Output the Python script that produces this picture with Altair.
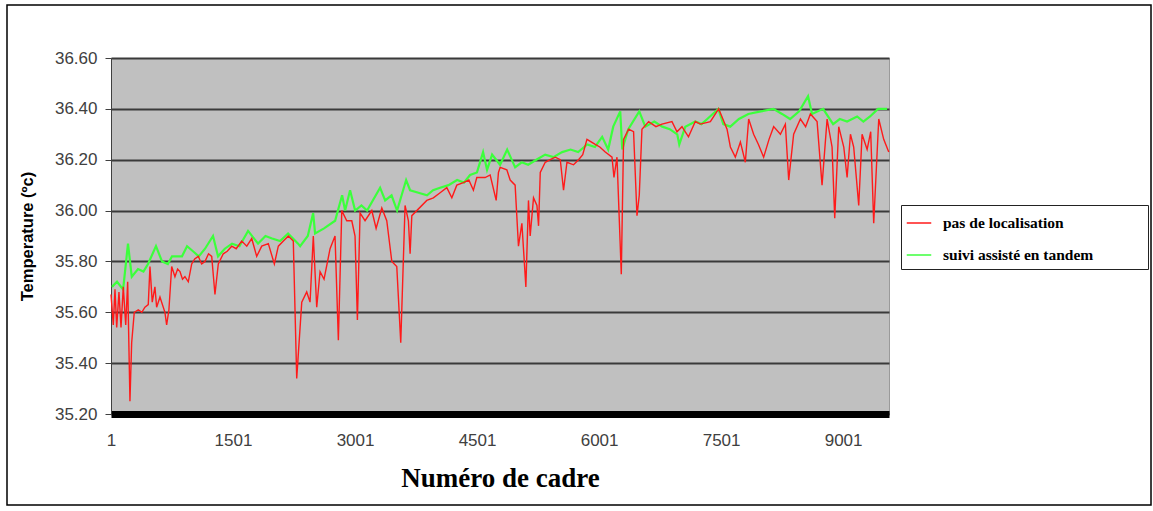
import altair as alt
import pandas as pd

# ---- data ----
red_frames = [1, 29, 50, 71, 99, 124, 152, 182, 206, 234, 255, 287, 336, 380, 418, 459, 480, 508, 541, 562, 603,
              664, 685, 713, 747, 787, 820, 849, 880, 910, 951, 993, 1030, 1074, 1115, 1156, 1200, 1239, 1279,
              1320, 1381, 1430, 1485, 1540, 1608, 1670, 1731,
              1792, 1854, 1935, 2009, 2058, 2120, 2181, 2242, 2284, 2346, 2407, 2448, 2488, 2530, 2571, 2620, 2694,
              2755, 2796, 2838, 2899, 2961, 3001, 3030, 3063, 3124, 3207, 3260, 3330, 3391, 3453, 3514, 3563,
              3616, 3657, 3678, 3699, 3883, 3964, 4047, 4129, 4191, 4252, 4333, 4400, 4456, 4498, 4600, 4662, 4736,
              4764, 4785, 4867, 4908, 4969, 5010, 5052, 5101, 5133, 5154, 5195, 5237, 5257, 5278, 5339, 5400, 5462,
              5524, 5564, 5606, 5687, 5749, 5800, 5852, 5954, 6010, 6077, 6160, 6184, 6221, 6274, 6302, 6364, 6425,
              6467, 6495, 6528, 6610, 6700, 6774, 6897, 6959, 7020, 7100, 7184, 7246, 7369, 7471, 7574, 7615, 7676,
              7738, 7799, 7840, 7901, 7960, 8024, 8090, 8147, 8230, 8291, 8332, 8393, 8476, 8540, 8599, 8681, 8742,
              8804, 8865, 8898, 8947, 9009, 9050, 9091, 9131, 9193, 9234, 9296, 9340, 9377, 9439, 9500, 9562]
red_temps = [35.67, 35.55, 35.69, 35.54, 35.68, 35.54, 35.70, 35.55, 35.72, 35.25, 35.48, 35.60, 35.61, 35.60,
             35.62, 35.63, 35.78, 35.64, 35.70, 35.62, 35.66, 35.60, 35.55, 35.61, 35.78, 35.74, 35.77, 35.76,
             35.73, 35.74, 35.72, 35.79, 35.81, 35.82, 35.79, 35.80, 35.83, 35.82, 35.67, 35.79, 35.83, 35.84,
             35.86, 35.85, 35.88, 35.86, 35.89, 35.82, 35.86, 35.87, 35.79, 35.86, 35.88, 35.90, 35.88, 35.34,
             35.64, 35.68, 35.64, 35.90, 35.62, 35.76, 35.73, 35.85, 35.90, 35.49, 36.00, 35.96, 35.96, 35.90,
             35.57, 35.99, 35.96, 36.00, 35.93, 36.01, 35.96, 35.80, 35.78, 35.48, 36.02, 35.96, 35.83, 35.98,
             36.04, 36.05, 36.07, 36.09, 36.05, 36.10, 36.11, 36.12, 36.08, 36.13, 36.13, 36.14, 36.04, 36.15,
             36.17, 36.16, 36.12, 36.10, 35.86, 35.95, 35.70, 36.04, 35.90, 36.05, 36.02, 35.94, 36.15, 36.19,
             36.20, 36.21, 36.20, 36.08, 36.19, 36.18, 36.20, 36.22, 36.28, 36.26, 36.25, 36.23, 36.21, 36.13,
             36.21, 35.75, 36.28, 36.32, 36.31, 35.98, 36.06, 36.32, 36.35, 36.33, 36.34, 36.35, 36.31, 36.33,
             36.29, 36.35, 36.34, 36.35, 36.40, 36.32, 36.25, 36.21, 36.27, 36.19, 36.36, 36.30, 36.26, 36.21,
             36.28, 36.33, 36.30, 36.34, 36.12, 36.30, 36.36, 36.33, 36.38, 36.35, 36.10, 36.36, 36.25, 35.97,
             36.33, 36.25, 36.13, 36.30, 36.25, 36.02, 36.30, 36.24, 36.31, 35.95, 36.36, 36.28, 36.23]

green_frames = [13, 75, 150, 210, 256, 333, 400, 456, 554, 628, 700, 751, 874, 936, 1009, 1080, 1157, 1255, 1317,
                1400, 1489, 1580, 1686, 1809, 1900, 1981, 2080, 2178, 2301, 2326, 2420, 2486, 2510, 2620, 2756,
                2842, 2879, 2940, 3002, 3080, 3149, 3309, 3371, 3450, 3518, 3629, 3678, 3780, 3886, 3960, 4046,
                4150, 4256, 4340, 4415, 4500, 4575, 4624, 4686, 4784, 4871, 4969, 5050, 5129, 5230, 5338, 5440,
                5547, 5650, 5744, 5855, 5950, 6039, 6113, 6175, 6261, 6286, 6360, 6495, 6569, 6680, 6778, 6870,
                6962, 6987, 7061, 7184, 7260, 7331, 7467, 7528, 7614, 7720, 7836, 7990, 8143, 8250, 8349, 8460,
                8570, 8619, 8755, 8878, 8960, 9050, 9173, 9250, 9332, 9430, 9541]
green_temps = [35.70, 35.72, 35.69, 35.87, 35.74, 35.77, 35.76, 35.79, 35.86, 35.80, 35.79, 35.82, 35.82, 35.86,
               35.84, 35.82, 35.85, 35.90, 35.82, 35.85, 35.87, 35.86, 35.92, 35.87, 35.90, 35.89, 35.88, 35.91,
               35.87, 35.86, 35.90, 35.99, 35.91, 35.93, 35.96, 36.06, 36.00, 36.08, 36.00, 36.02, 36.00, 36.09,
               36.04, 36.06, 36.00, 36.12, 36.08, 36.07, 36.06, 36.08, 36.09, 36.10, 36.12, 36.11, 36.14, 36.15,
               36.23, 36.16, 36.22, 36.18, 36.24, 36.17, 36.19, 36.18, 36.20, 36.22, 36.21, 36.23, 36.24, 36.23,
               36.26, 36.25, 36.29, 36.24, 36.33, 36.39, 36.24, 36.32, 36.39, 36.33, 36.35, 36.33, 36.32, 36.30,
               36.26, 36.33, 36.35, 36.34, 36.36, 36.40, 36.34, 36.33, 36.36, 36.38, 36.39, 36.40, 36.38, 36.36,
               36.39, 36.45, 36.38, 36.40, 36.34, 36.36, 36.35, 36.37, 36.35, 36.37, 36.40, 36.40]

series_names = ["pas de localisation", "suivi assisté en tandem"]
series_colors = ["#ff1a1a", "#3cff3c"]
x_ticks = [1, 1501, 3001, 4501, 6001, 7501, 9001]
y_ticks = [35.2, 35.4, 35.6, 35.8, 36.0, 36.2, 36.4, 36.6]

red_df = pd.DataFrame({"frame": red_frames, "temp": red_temps, "serie": series_names[0]})
green_df = pd.DataFrame({"frame": green_frames, "temp": green_temps, "serie": series_names[1]})

W, H = 778, 356

x_enc = alt.X("frame:Q",
              scale=alt.Scale(domain=[1, 9565], nice=False, zero=False),
              axis=alt.Axis(values=x_ticks, format="d", title="Numéro de cadre", grid=False,
                            tickSize=0, labelPadding=18, domainWidth=7, domainColor="#000000",
                            labelFont="Liberation Sans", labelFontSize=17, labelColor="#404040",
                            titleFont="Liberation Serif", titleFontSize=27, titleFontWeight="bold",
                            titleColor="#000000", titlePadding=17, labelFlush=False))
y_enc = alt.Y("temp:Q",
              scale=alt.Scale(domain=[35.2, 36.6], nice=False, zero=False),
              axis=alt.Axis(values=y_ticks, format=".2f", title="Temperature (ºc)",
                            gridColor="#3a3a3a", gridWidth=2,
                            tickSize=6, tickColor="#404040", labelPadding=8,
                            domainColor="#404040", domainWidth=1,
                            labelFont="Liberation Sans", labelFontSize=17, labelColor="#404040",
                            titleFont="Liberation Sans", titleFontSize=16.5, titleFontWeight="bold",
                            titleColor="#000000", titlePadding=19))
color_enc = alt.Color("serie:N",
                      scale=alt.Scale(domain=series_names, range=series_colors),
                      legend=alt.Legend(title="MMMMMM", titleOrient="right", titlePadding=0,
                                        titleFontSize=10, titleColor="rgba(0,0,0,0)",
                                        orient="none", legendX=790, legendY=147,
                                        labelFont="Liberation Serif", labelFontWeight="bold",
                                        labelFontSize=15.5, labelColor="#000000", labelOffset=11,
                                        symbolType="stroke", symbolSize=600, symbolStrokeWidth=1.5,
                                        rowPadding=10, padding=5, strokeColor="#222222",
                                        fillColor="#ffffff"))

green_line = alt.Chart(green_df).mark_line(strokeWidth=2.2).encode(
    x=x_enc, y=y_enc, color=color_enc, order="frame:Q")
red_line = alt.Chart(red_df).mark_line(strokeWidth=1.4).encode(
    x=x_enc, y=y_enc, color=color_enc, order="frame:Q")

frame_box = alt.Chart(alt.Data(values=[{}])).mark_rect(
    fill=None, stroke="#000000", strokeWidth=1.5).encode(
    x=alt.value(-104), x2=alt.value(1040), y=alt.value(-53), y2=alt.value(447))

chart = alt.layer(green_line, red_line, frame_box).properties(
    width=W, height=H,
    autosize=alt.AutoSizeParams(type="none"),
    padding={"left": 111, "top": 58, "right": 264, "bottom": 97},
    background="#ffffff",
).configure_view(fill="#c0c0c0", stroke="#9a9a9a", strokeWidth=1)

chart.save("out.html", embed_options={"renderer": "svg", "actions": False})
